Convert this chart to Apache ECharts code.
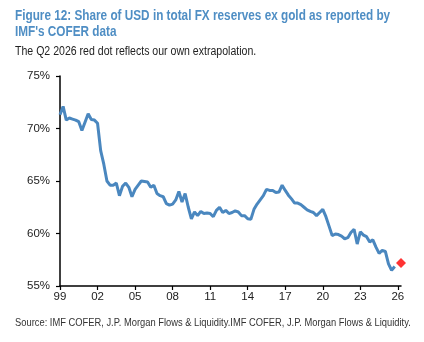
<!DOCTYPE html>
<html>
<head>
<meta charset="utf-8">
<script src="https://cdn.jsdelivr.net/npm/echarts@6/dist/echarts.min.js"></script>
<style>
html,body{margin:0;padding:0;background:#fff;}
#chart{width:424px;height:342px;}
</style>
</head>
<body>
<div id="chart"></div>
<script>
// Quarterly categories 1999Q1 .. 2026Q2
const quarters = [];
for (let y = 1999; y <= 2026; y++) {
  for (let q = 1; q <= 4; q++) {
    if (y === 2026 && q > 2) break;
    quarters.push(y + 'Q' + q);
  }
}
// USD share (%) of allocated FX reserves, 1999Q1 .. 2025Q4
const usdShare = [
  71.3, 72.1, 70.8, 71.0, 70.9, 70.8, 70.65, 69.8, 70.6, 71.4,
  70.85, 70.8, 70.5, 67.9, 66.6, 65.0, 64.6, 64.6, 64.8, 63.6,
  64.5, 64.8, 64.4, 63.5, 64.2, 64.6, 65.0, 64.95, 64.9, 64.4,
  64.6, 63.8, 63.6, 63.5, 62.85, 62.7, 62.8, 63.2, 64.0, 63.0,
  63.8, 62.5, 61.4, 62.05, 61.7, 62.1, 61.9, 61.95, 61.9, 61.6,
  62.2, 62.5, 62.0, 62.2, 61.9, 62.0, 62.15, 62.05, 61.7, 61.7,
  61.4, 61.35, 62.3, 62.8, 63.2, 63.6, 64.2, 64.1, 64.1, 63.9,
  63.95, 64.6, 64.1, 63.65, 63.3, 62.9, 62.9, 62.75, 62.5, 62.25,
  62.1, 62.0, 61.7, 62.0, 62.3, 61.6, 60.7, 59.8, 59.95, 59.9,
  59.75, 59.5, 59.6, 60.1, 60.4, 59.0, 60.15, 59.85, 59.7, 59.2,
  59.4, 58.7, 58.1, 58.4, 58.3, 57.1, 56.5, 56.85
];
// Extrapolated point (Q2 2026)
const extrapQuarter = '2026Q2';
const extrapValue = 57.2;

const titleText = "Figure 12: Share of USD in total FX reserves ex gold as reported by\nIMF's COFER data";
const subtitleText = 'The Q2 2026 red dot reflects our own extrapolation.';
const sourceText = 'Source: IMF COFER, J.P. Morgan Flows & Liquidity.IMF COFER, J.P. Morgan Flows & Liquidity.';

const lineData = quarters.map((q, i) => i < usdShare.length ? usdShare[i] : null);
const dotData = quarters.map(q => q === extrapQuarter ? extrapValue : null);

const chart = echarts.init(document.getElementById('chart'), null, {renderer: 'canvas'});
const FONT = "'Liberation Sans', Arial, sans-serif";
chart.setOption({
  animation: false,
  backgroundColor: '#ffffff',
  graphic: [
    {
      type: 'text', x: 15, y: 8, scaleX: 0.84, silent: true,
      style: {text: titleText, x: 0, y: 0, fill: '#4f8ec4', lineHeight: 16,
        font: "bold 14px 'Liberation Sans', Arial, sans-serif", verticalAlign: 'top'}
    },
    {
      type: 'text', x: 15, y: 45, scaleX: 0.88, silent: true,
      style: {text: subtitleText, x: 0, y: 0, fill: '#222', lineHeight: 14,
        font: "12px 'Liberation Sans', Arial, sans-serif", verticalAlign: 'top'}
    },
    {
      type: 'text', x: 15, y: 316, scaleX: 0.85, silent: true,
      style: {text: sourceText, x: 0, y: 0, fill: '#333', lineHeight: 13,
        font: "11px 'Liberation Sans', Arial, sans-serif", verticalAlign: 'top'}
    }
  ],
  grid: {left: 60, right: 23, top: 76, bottom: 56, containLabel: false},
  xAxis: {
    type: 'category',
    data: quarters,
    boundaryGap: false,
    axisLine: {lineStyle: {color: '#000', width: 1.5}},
    axisTick: {show: true, interval: 11, length: 4, inside: false, lineStyle: {color: '#000', width: 1.2}},
    axisLabel: {
      interval: 11, margin: 5, color: '#222', fontFamily: FONT, fontSize: 11.5,
      formatter: v => v.slice(2, 4)
    },
    splitLine: {show: false}
  },
  yAxis: {
    type: 'value',
    min: 55, max: 75, interval: 5,
    axisLine: {show: true, lineStyle: {color: '#000', width: 1.5}},
    axisTick: {show: true, length: 4, lineStyle: {color: '#000', width: 1.2}},
    axisLabel: {margin: 10, color: '#222', fontFamily: FONT, fontSize: 11.5, formatter: v => v + '%'},
    splitLine: {show: false}
  },
  series: [
    {
      type: 'line', data: lineData, showSymbol: false, connectNulls: false,
      lineStyle: {color: '#4a87bf', width: 3}, itemStyle: {color: '#4a87bf'}
    },
    {
      type: 'scatter', data: dotData, symbol: 'diamond', symbolSize: [10, 10],
      itemStyle: {color: '#ff0000'}
    }
  ]
});
</script>
</body>
</html>
